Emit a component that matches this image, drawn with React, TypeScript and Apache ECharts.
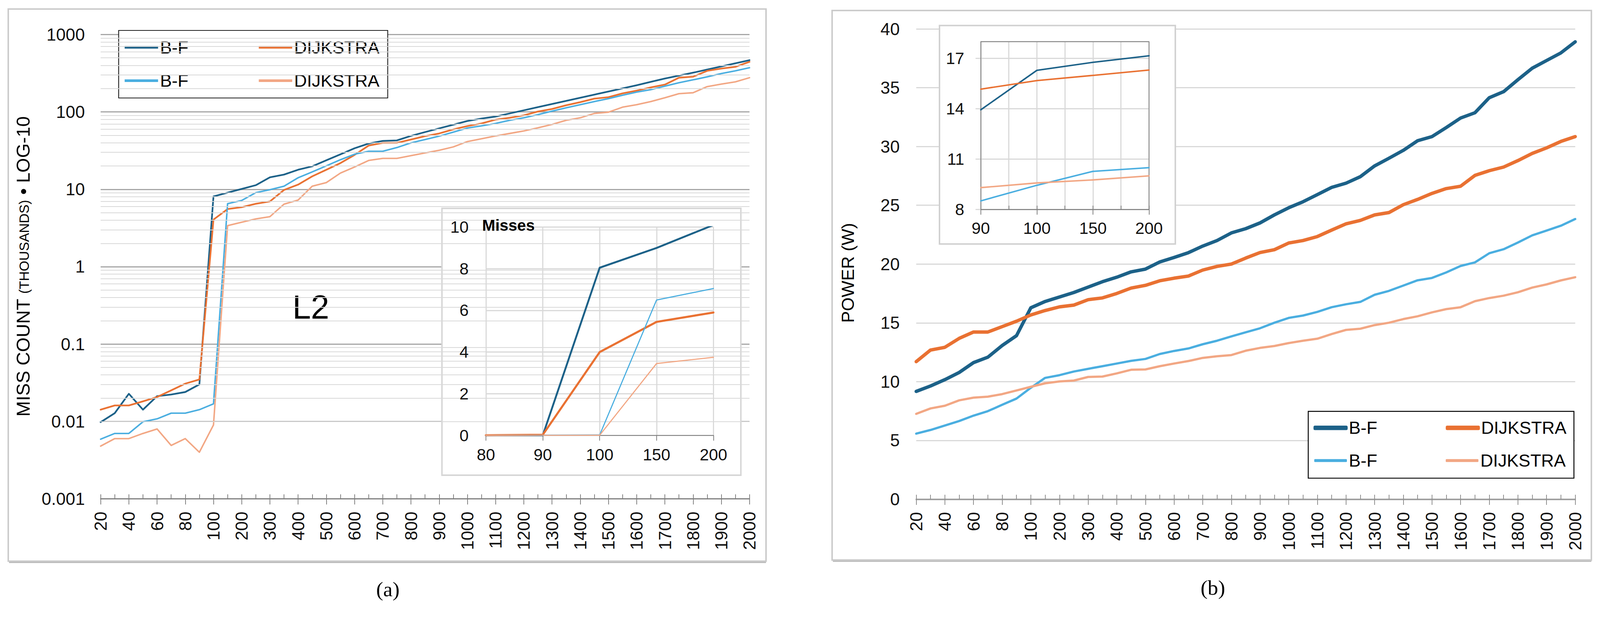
import React, { useEffect, useRef, useState } from 'react';
import * as echarts from 'echarts';

// ---------- data ----------
const categories = [
  '20', '30', '40', '50', '60', '70', '80', '90', '100', '150', '200', '250', '300', '350', '400', '450', '500',
  '550', '600', '650', '700', '750', '800', '850', '900', '950', '1000', '1050', '1100', '1150', '1200', '1250',
  '1300', '1350', '1400', '1450', '1500', '1550', '1600', '1650', '1700', '1750', '1800', '1850', '1900', '1950', '2000',
];

// (a) L2 miss count (thousands), log-10 scale
const missBfDark = [
  0.0098, 0.0128, 0.0228, 0.0142, 0.0212, 0.0223, 0.024, 0.0301, 8.09,
  9.05, 10.1, 11.3, 14.3, 15.5, 17.9, 19.8, 23.7, 28.3, 33.9, 39.0, 42.2, 42.8, 49.0, 54.9, 61.3, 68.4, 76.3,
  82, 87.1, 95.6, 104.9, 115.2, 126.4, 138.8, 152.3, 167.2, 183.5, 201.5, 221.1, 244.6, 269.9, 294.9, 321.2, 352.7, 387.2, 425.0, 466.5,
];
const missDijDark = [
  0.0142, 0.0161, 0.0161, 0.0182, 0.0207, 0.0252, 0.0308, 0.0349, 4.06,
  5.55, 5.87, 6.5, 6.97, 9.8, 11.5, 14.7, 17.9, 21.8, 27.8, 36.7, 39.8, 39.8, 43.9, 48.6, 52.7, 59.5, 65.7,
  71.0, 79.4, 83.9, 90.4, 101.1, 109.0, 121.9, 133.8, 148.4, 155.1, 173.5, 188.4, 207.5, 225.3, 276.8, 285.2, 339.6, 363.2, 382.6, 444.6,
];
const missBfLight = [
  0.0059, 0.007, 0.007, 0.0099, 0.0108, 0.0128, 0.0128, 0.0142, 0.0169,
  6.52, 7.17, 9.05, 9.88, 10.96, 14.1, 16.8, 20.1, 24.1, 28.4, 31.0, 31.0, 34.6, 39.8, 43.9, 48.6, 54.8, 61.9,
  66, 71.0, 77.9, 83.9, 92.1, 102.3, 113.1, 124.1, 136.2, 148.4, 164.1, 180.1, 194.1, 215.5, 238.4, 259.7, 284.1, 312.9, 339.6, 372.4,
];
const missDijLight = [
  0.0048, 0.006, 0.006, 0.007, 0.008, 0.0049, 0.006, 0.004, 0.009,
  3.39, 3.75, 4.14, 4.43, 6.43, 7.26, 10.96, 12.2, 16.2, 19.4, 23.6, 25.1, 25.1, 27.2, 29.5, 31.9, 35.3, 41.4,
  45, 48.9, 52.7, 56.8, 62.3, 68.9, 77.9, 83.9, 95.6, 99.3, 115.2, 124.1, 136.2, 152.3, 172.2, 176.9, 212.4, 229.0, 244.6, 276.7,
];

// (a) inset "Misses"
const insetCatsA = ['80', '90', '100', '150', '200'];
const insetMissBfDark = [0, 0, 8.05, 9.0, 10.1];
const insetMissDijDark = [0.01, 0.03, 4.0, 5.45, 5.9];
const insetMissBfLight = [0, 0.01, 0.02, 6.5, 7.05];
const insetMissDijLight = [0.005, 0.004, 0.009, 3.45, 3.75];

// (b) power (W)
const powBfDark = [
  9.17, 9.63, 10.17, 10.78, 11.62, 12.08, 13.07, 13.91, 16.28, 16.82, 17.2, 17.58, 18.04, 18.5, 18.88, 19.34, 19.57, 20.18, 20.56, 20.97,
  21.53, 22.0, 22.65, 23.01, 23.5, 24.18, 24.79, 25.3, 25.91, 26.52, 26.88, 27.43, 28.35, 29.0, 29.67, 30.49, 30.84, 31.61, 32.42, 32.87,
  34.15, 34.66, 35.68, 36.66, 37.31, 37.96, 38.9,
];
const powDijDark = [
  11.7, 12.69, 12.92, 13.68, 14.22, 14.22, 14.68, 15.14, 15.67, 16.05, 16.36, 16.51, 16.97, 17.12, 17.5, 17.96, 18.19, 18.58, 18.8, 18.98,
  19.49, 19.8, 20.0, 20.51, 20.98, 21.22, 21.79, 22.0, 22.34, 22.89, 23.42, 23.71, 24.18, 24.38, 25.05, 25.5, 26.01, 26.42, 26.62, 27.54,
  27.94, 28.25, 28.8, 29.41, 29.88, 30.43, 30.84,
];
const powBfLight = [
  5.58, 5.89, 6.27, 6.65, 7.11, 7.49, 8.03, 8.56, 9.48, 10.32, 10.55, 10.86, 11.09, 11.31, 11.54, 11.77, 11.93, 12.35, 12.61, 12.82,
  13.18, 13.48, 13.85, 14.2, 14.54, 15.01, 15.42, 15.62, 15.93, 16.33, 16.58, 16.78, 17.39, 17.72, 18.17, 18.62, 18.82, 19.29, 19.84, 20.14,
  20.92, 21.26, 21.83, 22.44, 22.85, 23.26, 23.83,
];
const powDijLight = [
  7.26, 7.72, 7.95, 8.41, 8.64, 8.72, 8.94, 9.25, 9.56, 9.86, 10.02, 10.09, 10.4, 10.43, 10.7, 11.01, 11.04, 11.31, 11.54, 11.75,
  12.02, 12.16, 12.26, 12.63, 12.87, 13.03, 13.28, 13.48, 13.65, 14.05, 14.4, 14.5, 14.81, 15.01, 15.32, 15.56, 15.89, 16.17, 16.33, 16.84,
  17.11, 17.31, 17.6, 18.0, 18.27, 18.61, 18.88,
];

// (b) inset
const insetCatsB = ['90', '100', '150', '200'];
const insetPowBfDark = [13.94, 16.29, 16.77, 17.16];
const insetPowDijDark = [15.17, 15.68, 15.99, 16.31];
const insetPowBfLight = [8.51, 9.44, 10.27, 10.49];
const insetPowDijLight = [9.3, 9.58, 9.76, 10.0];

// log axis ticks
const logDecades = [0.001, 0.01, 0.1, 1, 10, 100];
const logMinorSteps = [2, 3, 4, 5, 6, 7, 8, 9];

// ---------- style ----------
const REF_W = 4261;
const REF_H = 1616;
const FONT = "'Liberation Sans', Arial, sans-serif";
const C_DARK = '#1c6188';
const C_ORANGE = '#e97132';
const C_LBLUE = '#4aaee0';
const C_LORANGE = '#f2a784';

const legendLabel: Record<string, string> = {
  'a-bf': 'B-F', 'a-dij': 'DIJKSTRA', 'a-bf-l': 'B-F', 'a-dij-l': 'DIJKSTRA',
  'b-bf': 'B-F', 'b-dij': 'DIJKSTRA', 'b-bf-l': 'B-F', 'b-dij-l': 'DIJKSTRA',
};

function buildOption(k: number) {
  const p = (v: number) => v * k;
  const fmtLog = (v: number) => String(parseFloat(Number(v).toPrecision(3)));
  const minorLines: any[] = [];
  logDecades.forEach((d) => logMinorSteps.forEach((m) => minorLines.push({ yAxis: m * d })));
  const pairs = (arr: number[]) => arr.map((v, i) => [i, v]);

  const lineSeries = (name: string, data: any[], color: string, width: number, xi: number, yi: number, z = 2) => ({
    type: 'line', name, data, xAxisIndex: xi, yAxisIndex: yi, z,
    symbol: 'none', showSymbol: false, silent: true,
    lineStyle: { color, width: p(width), cap: 'round', join: 'round' },
    itemStyle: { color },
  });

  const tickLabel = { fontSize: p(46), fontFamily: FONT, color: '#111' };
  const insetLabel = { fontSize: p(44), fontFamily: FONT, color: '#111' };
  const rect = (x: number, y: number, w: number, h: number) => ({ x: p(x), y: p(y), width: p(w), height: p(h) });
  const thickIcon = (name: string, color: string) => ({ name, itemStyle: { color, borderColor: color, borderWidth: p(4) } });

  return {
    animation: false,
    backgroundColor: '#fff',
    grid: [
      { left: p(268), top: p(92), width: p(1728), height: p(1237), outerBoundsMode: 'none' },
      { left: p(1294), top: p(605), width: p(606), height: p(555), outerBoundsMode: 'none' },
      { left: p(2440), top: p(77), width: p(1755), height: p(1253), outerBoundsMode: 'none' },
      {
        left: p(2612), top: p(111), width: p(448), height: p(447), outerBoundsMode: 'none',
        show: true, borderColor: '#7f7f7f', borderWidth: p(2), backgroundColor: 'rgba(0,0,0,0)', z: 7,
      },
    ],
    xAxis: [
      {
        type: 'category', gridIndex: 0, data: categories, boundaryGap: false, position: 'bottom',
        axisLine: { show: true, onZero: false, lineStyle: { color: '#7f7f7f', width: p(3) } },
        axisTick: { show: true, interval: 1, length: p(15), lineStyle: { color: '#7f7f7f', width: p(2) } },
        axisLabel: { ...tickLabel, interval: 1, rotate: 90, margin: p(34) },
        splitLine: { show: false },
      },
      {
        type: 'category', gridIndex: 0, data: categories, boundaryGap: false, position: 'bottom',
        axisLine: { show: false, onZero: false },
        axisTick: { show: true, inside: true, interval: 0, length: p(12), lineStyle: { color: '#7f7f7f', width: p(2) } },
        axisLabel: { show: false }, splitLine: { show: false },
      },
      {
        type: 'category', gridIndex: 1, data: insetCatsA, boundaryGap: false, position: 'bottom', z: 6,
        axisLine: { show: true, onZero: false, lineStyle: { color: '#7f7f7f', width: p(2) } },
        axisTick: { show: true, interval: 0, length: p(14), lineStyle: { color: '#7f7f7f', width: p(2) } },
        axisLabel: { ...insetLabel, interval: 0, margin: p(30) },
        splitLine: { show: true, interval: 0, lineStyle: { color: '#d9d9d9', width: p(3) } },
      },
      {
        type: 'category', gridIndex: 2, data: categories, boundaryGap: false, position: 'bottom',
        axisLine: { show: true, onZero: false, lineStyle: { color: '#a0a0a0', width: p(4) } },
        axisTick: { show: true, interval: 1, length: p(15), lineStyle: { color: '#8c8c8c', width: p(2) } },
        axisLabel: { ...tickLabel, interval: 1, rotate: 90, margin: p(34) },
        splitLine: { show: false },
      },
      {
        type: 'category', gridIndex: 2, data: categories, boundaryGap: false, position: 'bottom',
        axisLine: { show: false, onZero: false },
        axisTick: { show: true, inside: true, interval: 0, length: p(12), lineStyle: { color: '#8c8c8c', width: p(2) } },
        axisLabel: { show: false }, splitLine: { show: false },
      },
      {
        type: 'value', gridIndex: 3, min: 0, max: 3, interval: 1, position: 'bottom', z: 6,
        axisLine: { show: true, onZero: false, lineStyle: { color: '#7f7f7f', width: p(2) } },
        axisTick: { show: true, length: p(14), lineStyle: { color: '#7f7f7f', width: p(2) } },
        axisLabel: { ...insetLabel, margin: p(28), formatter: (v: number) => insetCatsB[v] ?? '' },
        splitLine: { show: false },
      },
      {
        type: 'value', gridIndex: 3, min: 0, max: 3, interval: 0.5, position: 'bottom', z: 6,
        axisLine: { show: false, onZero: false },
        axisTick: { show: true, inside: true, length: p(10), lineStyle: { color: '#7f7f7f', width: p(2) } },
        axisLabel: { show: false },
        splitLine: { show: true, lineStyle: { color: '#d9d9d9', width: p(3) } },
      },
    ],
    yAxis: [
      {
        type: 'log', gridIndex: 0, logBase: 10, min: 0.001, max: 1000,
        axisLine: { show: false }, axisTick: { show: false },
        axisLabel: { ...tickLabel, margin: p(42), formatter: fmtLog },
        splitLine: { show: true, lineStyle: { color: '#a6a6a6', width: p(3) } },
      },
      {
        type: 'value', gridIndex: 1, min: 0, max: 10, interval: 2, z: 6,
        axisLine: { show: false }, axisTick: { show: false },
        axisLabel: { ...insetLabel, margin: p(46) },
        splitLine: { show: true, lineStyle: { color: '#d9d9d9', width: p(3) } },
      },
      {
        type: 'value', gridIndex: 2, min: 0, max: 40, interval: 5,
        axisLine: { show: false }, axisTick: { show: false },
        axisLabel: { ...tickLabel, margin: p(44) },
        splitLine: { show: true, lineStyle: { color: '#d9d9d9', width: p(3) } },
      },
      {
        type: 'value', gridIndex: 3, min: 8, max: 18, interval: 3, z: 6,
        axisLine: { show: true, lineStyle: { color: '#7f7f7f', width: p(2) } },
        axisTick: { show: true, length: p(14), lineStyle: { color: '#d9d9d9', width: p(3) } },
        axisLabel: { ...insetLabel, margin: p(44), showMaxLabel: false },
        splitLine: { show: true, lineStyle: { color: '#d9d9d9', width: p(3) } },
      },
    ],
    legend: [
      {
        left: p(316), top: p(81), width: p(690), orient: 'horizontal', selectedMode: false,
        data: ['a-bf', 'a-dij', 'a-bf-l', 'a-dij-l'],
        formatter: (n: string) => legendLabel[n] ?? n,
        icon: 'rect', itemWidth: p(89), itemHeight: p(7), itemGap: p(39),
        padding: [p(20), p(22), p(21), p(16)],
        backgroundColor: '#fff', borderColor: '#000', borderWidth: p(2),
        textStyle: { fontSize: p(47), fontFamily: FONT, color: '#000', width: p(224), lineHeight: p(50) },
      },
      {
        left: p(3484), top: p(1096), width: p(690), orient: 'horizontal', selectedMode: false,
        data: [thickIcon('b-bf', C_DARK), thickIcon('b-dij', C_ORANGE), 'b-bf-l', 'b-dij-l'],
        formatter: (n: string) => legendLabel[n] ?? n,
        icon: 'roundRect', itemWidth: p(87), itemHeight: p(8), itemGap: p(37),
        padding: [p(19), p(20), p(22), p(14)],
        backgroundColor: '#fff', borderColor: '#000', borderWidth: p(2.5),
        textStyle: { fontSize: p(47), fontFamily: FONT, color: '#000', width: p(221), lineHeight: p(50) },
      },
    ],
    series: [
      {
        type: 'line', name: 'minor-grid', data: [], xAxisIndex: 0, yAxisIndex: 0, z: 1, silent: true,
        markLine: {
          silent: true, symbol: ['none', 'none'], label: { show: false },
          lineStyle: { color: '#d9d9d9', width: p(2), type: 'solid' },
          emphasis: { disabled: true },
          data: minorLines,
        },
      },
      lineSeries('a-bf', missBfDark, C_DARK, 4.5, 0, 0),
      lineSeries('a-dij', missDijDark, C_ORANGE, 4.5, 0, 0),
      lineSeries('a-bf-l', missBfLight, C_LBLUE, 4, 0, 0),
      lineSeries('a-dij-l', missDijLight, C_LORANGE, 4, 0, 0),

      lineSeries('ia-bf', insetMissBfDark, C_DARK, 5, 2, 1, 8),
      lineSeries('ia-dij', insetMissDijDark, C_ORANGE, 5.5, 2, 1, 8),
      lineSeries('ia-bf-l', insetMissBfLight, C_LBLUE, 3, 2, 1, 8),
      lineSeries('ia-dij-l', insetMissDijLight, C_LORANGE, 3, 2, 1, 8),

      lineSeries('b-bf', powBfDark, C_DARK, 9, 3, 2),
      lineSeries('b-dij', powDijDark, C_ORANGE, 9, 3, 2),
      lineSeries('b-bf-l', powBfLight, C_LBLUE, 6, 3, 2),
      lineSeries('b-dij-l', powDijLight, C_LORANGE, 6, 3, 2),

      lineSeries('ib-bf', pairs(insetPowBfDark), C_DARK, 4, 5, 3, 8),
      lineSeries('ib-dij', pairs(insetPowDijDark), C_ORANGE, 4, 5, 3, 8),
      lineSeries('ib-bf-l', pairs(insetPowBfLight), C_LBLUE, 4, 5, 3, 8),
      lineSeries('ib-dij-l', pairs(insetPowDijLight), C_LORANGE, 4, 5, 3, 8),
    ],
    graphic: [
      // panel frames (with a soft bottom edge)
      { type: 'line', z: 0, silent: true, shape: { x1: p(24), y1: p(1498), x2: p(2040), y2: p(1498) }, style: { stroke: '#bdbdbd', lineWidth: p(4) } },
      { type: 'line', z: 0, silent: true, shape: { x1: p(2218), y1: p(1495), x2: p(4238), y2: p(1495) }, style: { stroke: '#bdbdbd', lineWidth: p(4) } },
      { type: 'rect', z: 0, silent: true, shape: rect(22, 24, 2018, 1471), style: { fill: 'none', stroke: '#cacaca', lineWidth: p(4) } },
      { type: 'rect', z: 0, silent: true, shape: rect(2216, 28, 2022, 1464), style: { fill: 'none', stroke: '#cacaca', lineWidth: p(4) } },
      // inset boxes
      { type: 'rect', z: 5, silent: true, shape: rect(1177, 555, 796, 711), style: { fill: '#fff', stroke: '#d6d6d6', lineWidth: p(4) } },
      { type: 'rect', z: 5, silent: true, shape: rect(2502, 68, 628, 582), style: { fill: '#fff', stroke: '#d0d0d0', lineWidth: p(4) } },
      // labels
      { type: 'text', z: 9, silent: true, x: p(1284), y: p(600), style: { text: 'Misses', fontSize: p(42), fontWeight: 'bold', fontFamily: FONT, fill: '#000', align: 'left', verticalAlign: 'middle' } },
      { type: 'text', z: 3, silent: true, x: p(779), y: p(818), style: { text: 'L2', fontSize: p(88), fontFamily: FONT, fill: '#000', align: 'left', verticalAlign: 'middle' } },
      {
        type: 'text', z: 3, silent: true, x: p(58), y: p(710), rotation: Math.PI / 2,
        style: {
          text: '{a|MISS COUNT }{b|(THOUSANDS)}{a| • LOG-10}', align: 'center', verticalAlign: 'middle', fill: '#000',
          rich: {
            a: { fontSize: p(50), fontFamily: FONT, fill: '#000', verticalAlign: 'bottom', lineHeight: p(56) },
            b: { fontSize: p(36), fontFamily: FONT, fill: '#000', verticalAlign: 'bottom', lineHeight: p(56), padding: [0, 0, p(3), 0] },
          },
        },
      },
      {
        type: 'text', z: 3, silent: true, x: p(2258), y: p(727), rotation: Math.PI / 2,
        style: { text: 'POWER (W)', fontSize: p(47), fontFamily: FONT, fill: '#000', align: 'center', verticalAlign: 'middle' },
      },
      { type: 'text', z: 3, silent: true, x: p(1033), y: p(1570), style: { text: '(a)', fontSize: p(56), fontFamily: "'Liberation Serif', serif", fill: '#000', align: 'center', verticalAlign: 'middle' } },
      { type: 'text', z: 3, silent: true, x: p(3230), y: p(1566), style: { text: '(b)', fontSize: p(56), fontFamily: "'Liberation Serif', serif", fill: '#000', align: 'center', verticalAlign: 'middle' } },
    ],
  };
}

function viewportScale() {
  const w = window.innerWidth || REF_W;
  const h = window.innerHeight || REF_H;
  return Math.min(w / REF_W, h / REF_H);
}

export default function App() {
  const ref = useRef<HTMLDivElement>(null);
  const [k] = useState(() => {
    document.body.style.margin = '0';
    document.body.style.overflow = 'hidden';
    return viewportScale();
  });
  useEffect(() => {
    const chart = echarts.init(ref.current!, null, { renderer: 'svg' });
    chart.setOption(buildOption(k) as any);
    return () => chart.dispose();
  }, [k]);
  return <div ref={ref} style={{ width: Math.floor(REF_W * k), height: Math.floor(REF_H * k) }} />;
}
